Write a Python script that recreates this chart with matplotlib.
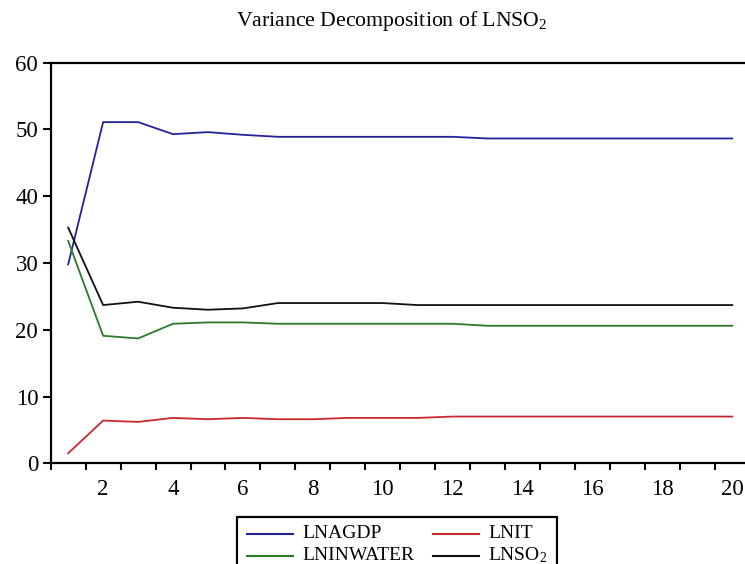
import matplotlib
matplotlib.use("Agg")
import matplotlib.pyplot as plt
from matplotlib.lines import Line2D
from matplotlib.patches import Rectangle

plt.rcParams['font.family'] = ['Liberation Serif', 'DejaVu Serif']
plt.rcParams['mathtext.default'] = 'regular'

periods = list(range(1, 21))
lnagdp = [29.8, 51.1, 51.1, 49.3, 49.6, 49.2, 48.9, 48.9, 48.9, 48.9,
          48.9, 48.9, 48.65, 48.65, 48.65, 48.65, 48.65, 48.65, 48.65, 48.65]
lnit = [1.5, 6.4, 6.2, 6.8, 6.6, 6.8, 6.6, 6.6, 6.8, 6.8,
        6.8, 7.0, 7.0, 7.0, 7.0, 7.0, 7.0, 7.0, 7.0, 7.0]
lninwater = [33.3, 19.1, 18.7, 20.9, 21.1, 21.1, 20.9, 20.9, 20.9, 20.9,
             20.9, 20.9, 20.6, 20.6, 20.6, 20.6, 20.6, 20.6, 20.6, 20.6]
lnso2 = [35.3, 23.7, 24.2, 23.3, 23.0, 23.2, 24.0, 24.0, 24.0, 24.0,
         23.7, 23.7, 23.7, 23.7, 23.7, 23.7, 23.7, 23.7, 23.7, 23.7]
yticks = [0, 10, 20, 30, 40, 50, 60]
xlabels = [2, 4, 6, 8, 10, 12, 14, 16, 18, 20]

c_blue = '#22229a'
c_red = '#c8282e'
c_green = '#2a7a2a'
c_black = '#111111'

fig = plt.figure(figsize=(7.45, 5.64), dpi=100)
ax = fig.add_axes([50.7 / 745, 1 - 463.3 / 564, 699 / 745, 400.6 / 564])

lw = 1.3
ax.plot(periods, lnagdp, color=c_blue, lw=lw)
ax.plot(periods, lnit, color=c_red, lw=lw)
ax.plot(periods, lninwater, color=c_green, lw=lw)
ax.plot(periods, lnso2, color=c_black, lw=lw)

ax.set_xlim(0.5, 20.5)
ax.set_ylim(0, 60)
ax.set_yticks(yticks)
ax.set_yticklabels([str(v) for v in yticks], fontsize=16.5)
ax.set_xticks([p - 0.5 for p in periods] + [20.5])
ax.set_xticklabels([])
ax.set_xticks(xlabels, minor=True)
ax.set_xticklabels([str(v) for v in xlabels], minor=True, fontsize=16.5)
ax.tick_params(axis='x', which='major', direction='out', length=5, width=1.5)
ax.tick_params(axis='x', which='minor', length=0, pad=11)
ax.tick_params(axis='y', direction='out', length=6, width=1.5, pad=3)

for s in ['left', 'top', 'bottom']:
    ax.spines[s].set_linewidth(1.6)
    ax.spines[s].set_color('black')
ax.spines['right'].set_visible(False)

fig.text(392 / 745, 1 - 21 / 564, 'Variance Decomposition of LNSO$_2$',
         ha='center', va='center', fontsize=15.7)

# legend drawn manually
fig.patches.append(Rectangle((237 / 745, 1 - 600 / 564), (557 - 237) / 745, (600 - 517) / 564,
                             transform=fig.transFigure, fill=False, ec='black', lw=1.6))
entries = [
    (247, 293, 302, 533.5, c_blue, 'LNAGDP'),
    (433, 479, 488, 533.5, c_red, 'LNIT'),
    (247, 293, 302, 555.5, c_green, 'LNINWATER'),
    (433, 479, 488, 555.5, c_black, 'LNSO$_2$'),
]
for x0, x1, xt, yy, col, lab in entries:
    fig.lines.append(Line2D([x0 / 745, x1 / 745], [1 - yy / 564, 1 - yy / 564],
                            transform=fig.transFigure, color=col, lw=1.5))
    fig.text(xt / 745, 1 - yy / 564, lab, ha='left', va='center', fontsize=14)

fig.savefig('out.png', dpi=100)
